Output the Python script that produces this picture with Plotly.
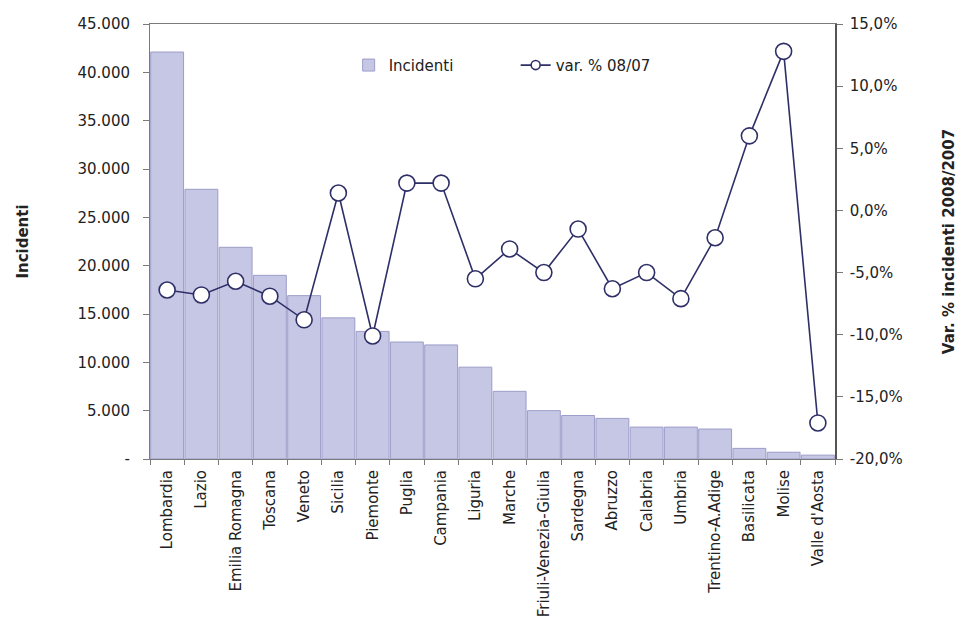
import plotly.graph_objects as go

# Regional road accidents (2008) and % change vs 2007
regions = [
    "Lombardia", "Lazio", "Emilia Romagna", "Toscana", "Veneto", "Sicilia",
    "Piemonte", "Puglia", "Campania", "Liguria", "Marche",
    "Friuli-Venezia-Giulia", "Sardegna", "Abruzzo", "Calabria", "Umbria",
    "Trentino-A.Adige", "Basilicata", "Molise", "Valle d'Aosta",
]
incidenti = [
    42100, 27900, 21900, 19000, 16900, 14600, 13200, 12100, 11800, 9500,
    7000, 5000, 4500, 4200, 3300, 3300, 3100, 1100, 700, 400,
]
var_pct = [
    -6.4, -6.8, -5.7, -6.9, -8.8, 1.4, -10.1, 2.2, 2.2, -5.5,
    -3.1, -5.0, -1.5, -6.3, -5.0, -7.1, -2.2, 6.0, 12.8, -17.1,
]

left_tickvals = [0, 5000, 10000, 15000, 20000, 25000, 30000, 35000, 40000, 45000]
left_ticktext = ["-", "5.000", "10.000", "15.000", "20.000", "25.000",
                 "30.000", "35.000", "40.000", "45.000"]
right_tickvals = [-20, -15, -10, -5, 0, 5, 10, 15]
right_ticktext = ["-20,0%", "-15,0%", "-10,0%", "-5,0%", "0,0%",
                  "5,0%", "10,0%", "15,0%"]

FONT = "DejaVu Sans, Arial, sans-serif"
BAR_FILL = "#c6c6e5"
BAR_EDGE = "#9d9dc9"
LINE_COL = "#2f2f68"
AXIS_COL = "#7a7a7a"
TEXT_COL = "#222222"

fig = go.Figure()

fig.add_trace(go.Bar(
    x=regions, y=incidenti, name="Incidenti",
    marker=dict(color=BAR_FILL, line=dict(color=BAR_EDGE, width=1)),
    yaxis="y",
))

fig.add_trace(go.Scatter(
    x=regions, y=var_pct, name="var. % 08/07",
    mode="lines+markers", showlegend=False,
    line=dict(color=LINE_COL, width=1.6),
    marker=dict(symbol="circle", size=16, color="white",
                line=dict(color=LINE_COL, width=1.6)),
    yaxis="y2",
))

# legend key for the line series, with a smaller marker than on the plot
fig.add_trace(go.Scatter(
    x=[None], y=[None], name="var. % 08/07",
    mode="lines+markers",
    line=dict(color=LINE_COL, width=1.6),
    marker=dict(symbol="circle", size=9, color="white",
                line=dict(color=LINE_COL, width=1.6)),
    yaxis="y2",
))

fig.update_layout(
    width=958, height=631,
    margin=dict(l=150, r=123, t=24, b=172, autoexpand=False),
    paper_bgcolor="white", plot_bgcolor="white",
    font=dict(family=FONT, size=14, color=TEXT_COL),
    bargap=0.04,
    showlegend=True,
    legend=dict(
        orientation="h", x=0.29, y=0.905, xanchor="left", yanchor="middle",
        bgcolor="rgba(0,0,0,0)", font=dict(size=15, color=TEXT_COL),
        entrywidth=122, traceorder="normal",
    ),
    xaxis=dict(
        type="category", range=[-0.5, len(regions) - 0.5],
        tickangle=-90, tickson="boundaries",
        ticks="outside", ticklen=5, tickcolor=AXIS_COL,
        showline=True, linecolor=AXIS_COL, linewidth=1, mirror=True,
        showgrid=False, ticklabelstandoff=4,
        tickfont=dict(size=15, color=TEXT_COL),
    ),
    yaxis=dict(
        range=[0, 45000], tickvals=left_tickvals, ticktext=left_ticktext,
        ticks="outside", ticklen=6, tickcolor=AXIS_COL,
        showline=True, linecolor=AXIS_COL, linewidth=1,
        showgrid=False, zeroline=False, ticklabelstandoff=10,
        tickfont=dict(size=15, color=TEXT_COL),
        title=dict(text="<b>Incidenti</b>", standoff=45,
                   font=dict(size=15, color=TEXT_COL)),
    ),
    yaxis2=dict(
        range=[-20, 15], tickvals=right_tickvals, ticktext=right_ticktext,
        overlaying="y", side="right",
        ticks="outside", ticklen=6, tickcolor=AXIS_COL,
        showline=True, linecolor="#555555", linewidth=1.5,
        showgrid=False, zeroline=False, ticklabelstandoff=4,
        tickfont=dict(size=15, color=TEXT_COL),
        title=dict(text="<b>Var. % incidenti 2008/2007</b>", standoff=42,
                   font=dict(size=15, color=TEXT_COL)),
    ),
)

fig.write_html("out.html")
